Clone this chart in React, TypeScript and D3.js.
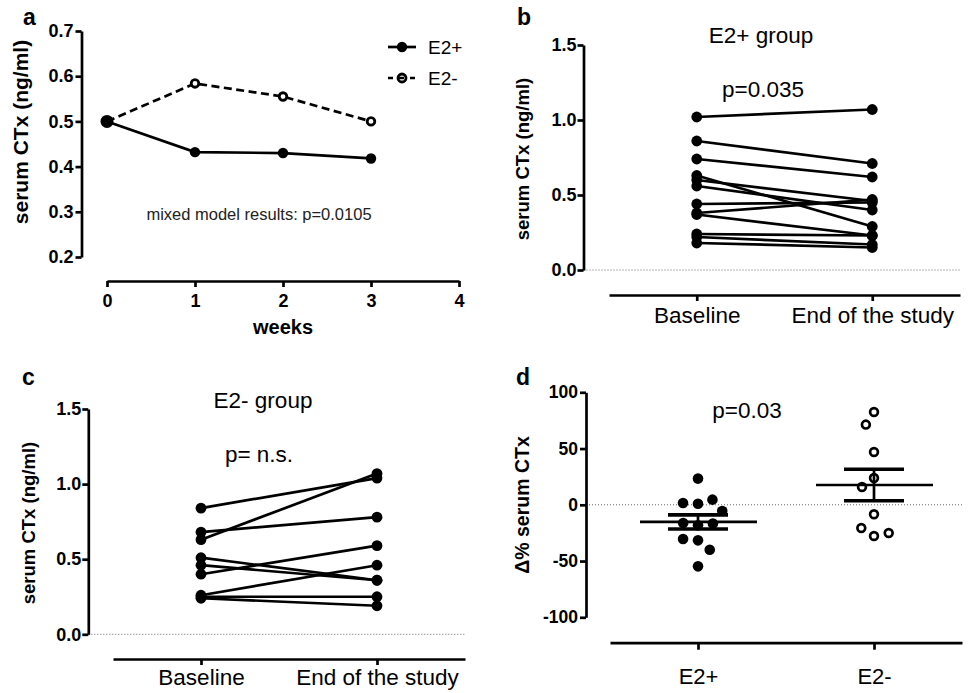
import React, { useEffect, useRef } from "react";
import * as d3 from "d3";

// panel a: mean serum CTx over time
const weeks = [0, 1, 2, 3];
const weekTicks = [0, 1, 2, 3, 4];
const e2PlusMeans = [0.5, 0.432, 0.43, 0.418];
const e2MinusMeans = [0.5, 0.584, 0.555, 0.5];
const ctxTicksA = [0.2, 0.3, 0.4, 0.5, 0.6, 0.7];

// panels b & c: paired values per subject
const timepoints = ["Baseline", "End of the study"];
const ctxTicks = [0, 0.5, 1.0, 1.5];
const e2PlusBaseline = [1.02, 0.86, 0.74, 0.63, 0.6, 0.56, 0.44, 0.38, 0.37, 0.24, 0.22, 0.18];
const e2PlusEnd = [1.07, 0.71, 0.62, 0.29, 0.46, 0.4, 0.45, 0.47, 0.23, 0.23, 0.17, 0.15];
const e2MinusBaseline = [0.84, 0.68, 0.63, 0.51, 0.46, 0.4, 0.26, 0.25, 0.24];
const e2MinusEnd = [1.04, 0.78, 1.07, 0.36, 0.36, 0.59, 0.46, 0.25, 0.19];

// panel d: percent change
const groups = ["E2+", "E2-"];
const deltaE2Plus = [23.3, 1.0, 1.6, 4.6, -5.5, -18.2, -16.2, -16.7, -31.6, -30.4, -39.9, -54.7];
const deltaE2Minus = [82.5, 71.3, 46.9, 23.8, 15.8, -8.4, -27.7, -20.6, -25.1];
const deltaTicks = [-100, -50, 0, 50, 100];

const FONT = "'Liberation Sans', Arial, Helvetica, sans-serif";
const SW = 2.7;

function styleAxis(g, size, weight) {
  g.attr("font-family", FONT).attr("font-size", size).attr("font-weight", weight);
  g.selectAll("path, line").attr("stroke", "#000").attr("stroke-width", SW);
  g.selectAll("text").attr("fill", "#000");
}

function label(svg, x, y, txt, size, weight = "normal", anchor = "middle") {
  return svg
    .append("text")
    .attr("x", x)
    .attr("y", y)
    .attr("font-family", FONT)
    .attr("font-size", size)
    .attr("font-weight", weight)
    .attr("text-anchor", anchor)
    .attr("fill", "#000")
    .text(txt);
}

function yTitle(svg, x, cy, txt, size) {
  svg
    .append("text")
    .attr("transform", `translate(${x},${cy}) rotate(-90)`)
    .attr("font-family", FONT)
    .attr("font-size", size)
    .attr("font-weight", "bold")
    .attr("text-anchor", "middle")
    .text(txt);
}

function drawPanelA(svg) {
  const x = d3.scaleLinear().domain([0, 4]).range([107, 459]);
  const y = d3.scaleLinear().domain([0.2, 0.7]).range([257, 31]);

  const yAx = svg
    .append("g")
    .attr("transform", "translate(81.5,0)")
    .call(d3.axisLeft(y).tickValues(ctxTicksA).tickFormat(d3.format(".1f")).tickSize(6).tickPadding(2).tickSizeOuter(0));
  styleAxis(yAx, 18, "bold");

  const xAx = svg
    .append("g")
    .attr("transform", "translate(0,281)")
    .call(d3.axisBottom(x).tickValues(weekTicks).tickFormat(d3.format("d")).tickSize(6).tickSizeOuter(0));
  styleAxis(xAx, 18, "bold");
  xAx.selectAll("text").attr("dy", null).attr("y", 26);

  label(svg, x(2), 334, "weeks", 20, "bold");
  yTitle(svg, 28, 132, "serum CTx (ng/ml)", 21);
  label(svg, 23, 25, "a", 23, "bold", "start");

  const line = d3
    .line<number>()
    .x((d, i) => x(weeks[i]))
    .y(d => y(d));

  svg.append("path").attr("d", line(e2MinusMeans)).attr("fill", "none").attr("stroke", "#000")
    .attr("stroke-width", SW).attr("stroke-dasharray", "8,4.5");
  svg.append("path").attr("d", line(e2PlusMeans)).attr("fill", "none").attr("stroke", "#000")
    .attr("stroke-width", SW);

  svg.selectAll(".ptMinus").data(e2MinusMeans).enter().append("circle")
    .attr("cx", (d, i) => x(weeks[i])).attr("cy", d => y(d)).attr("r", 3.8)
    .attr("fill", "#fff").attr("stroke", "#000").attr("stroke-width", 2.8);
  svg.selectAll(".ptPlus").data(e2PlusMeans).enter().append("circle")
    .attr("cx", (d, i) => x(weeks[i])).attr("cy", d => y(d)).attr("r", (d, i) => (i === 0 ? 6.5 : 5.2))
    .attr("fill", "#000");

  // legend
  const lg = svg.append("g");
  lg.append("line").attr("x1", 388).attr("x2", 416).attr("y1", 47).attr("y2", 47)
    .attr("stroke", "#000").attr("stroke-width", SW);
  lg.append("circle").attr("cx", 402).attr("cy", 47).attr("r", 5.2).attr("fill", "#000");
  label(lg, 428, 54, "E2+", 19, "normal", "start");
  lg.append("line").attr("x1", 388).attr("x2", 416).attr("y1", 78).attr("y2", 78)
    .attr("stroke", "#000").attr("stroke-width", SW).attr("stroke-dasharray", "5,6");
  lg.append("circle").attr("cx", 402).attr("cy", 78).attr("r", 4).attr("fill", "none")
    .attr("stroke", "#000").attr("stroke-width", 2.8);
  label(lg, 428, 85, "E2-", 19, "normal", "start");

  label(svg, 259, 220, "mixed model results: p=0.0105", 16.5).attr("fill", "#222");
}

function drawPaired(svg, o) {
  const y = d3.scaleLinear().domain([0, 1.5]).range([o.y0, o.y15]);
  const x = d3.scalePoint().domain(timepoints).range(o.xRange).padding(0.5);

  svg.append("line").attr("x1", o.axisX).attr("x2", o.xRange[1]).attr("y1", y(0)).attr("y2", y(0))
    .attr("stroke", "#666").attr("stroke-width", 1).attr("stroke-dasharray", "1,2");

  const yAx = svg
    .append("g")
    .attr("transform", `translate(${o.axisX},0)`)
    .call(d3.axisLeft(y).tickValues(ctxTicks).tickFormat(d3.format(".1f")).tickSize(6).tickPadding(1).tickSizeOuter(0));
  styleAxis(yAx, 18, "bold");

  const xAx = svg
    .append("g")
    .attr("transform", `translate(0,${o.xAxisY})`)
    .call(d3.axisBottom(x).tickSize(6).tickSizeOuter(0));
  styleAxis(xAx, 22.5, "normal");
  xAx.selectAll("text").attr("dy", null).attr("y", o.labelY);

  o.baseline.forEach((b, i) => {
    svg.append("line")
      .attr("x1", x(timepoints[0])).attr("y1", y(b))
      .attr("x2", x(timepoints[1])).attr("y2", y(o.end[i]))
      .attr("stroke", "#000").attr("stroke-width", SW);
  });
  const pts = o.baseline.map(b => [timepoints[0], b]).concat(o.end.map(e => [timepoints[1], e]));
  svg.append("g").selectAll("circle").data(pts).enter().append("circle")
    .attr("cx", d => x(d[0])).attr("cy", d => y(d[1])).attr("r", 5.4).attr("fill", "#000");

  label(svg, o.title[0], o.title[1], o.title[2], 22.5);
  label(svg, o.p[0], o.p[1], o.p[2], 22.5);
  yTitle(svg, o.yTitleX, o.yTitleY, "serum CTx (ng/ml)", 18.5);
  label(svg, o.letter[0], o.letter[1], o.letter[2], 23, "bold", "start");
}

function swarm(values, y, minDist) {
  const placed = [];
  return values.map(v => {
    const py = y(v);
    const blocked = [];
    for (const p of placed) {
      const dy = Math.abs(p.y - py);
      if (dy < minDist) {
        const dx = Math.sqrt(minDist * minDist - dy * dy);
        blocked.push([p.x - dx, p.x + dx]);
      }
    }
    const cands = [0];
    blocked.forEach(([a, b]) => cands.push(a, b));
    cands.sort((a, b) => Math.abs(a) - Math.abs(b) || a - b);
    const ox = cands.find(c => blocked.every(([a, b]) => c <= a + 1e-6 || c >= b - 1e-6)) ?? 0;
    placed.push({ x: ox, y: py });
    return { v, ox, y: py };
  });
}

function drawPanelD(svg) {
  const y = d3.scaleLinear().domain([-100, 100]).range([617.3, 392.3]);
  const x = d3.scalePoint().domain(groups).range([610, 962]).padding(0.5);
  const axisX = 586;

  svg.append("line").attr("x1", axisX).attr("x2", 962).attr("y1", y(0)).attr("y2", y(0))
    .attr("stroke", "#666").attr("stroke-width", 1).attr("stroke-dasharray", "1,2");

  const yAx = svg
    .append("g")
    .attr("transform", `translate(${axisX},0)`)
    .call(d3.axisLeft(y).tickValues(deltaTicks).tickFormat(d => String(d)).tickSize(6).tickPadding(2).tickSizeOuter(0));
  styleAxis(yAx, 17.5, "bold");

  const xAx = svg
    .append("g")
    .attr("transform", "translate(0,642.7)")
    .call(d3.axisBottom(x).tickSize(7).tickSizeOuter(0));
  styleAxis(xAx, 22, "normal");
  xAx.selectAll("text").attr("dy", null).attr("y", 41);

  const sets = [
    { name: groups[0], vals: deltaE2Plus, filled: true },
    { name: groups[1], vals: deltaE2Minus, filled: false },
  ];
  sets.forEach(s => {
    const cx = x(s.name);
    const pts = swarm(s.vals, y, 15);
    const g = svg.append("g");
    g.selectAll("circle").data(pts).enter().append("circle")
      .attr("cx", d => cx + d.ox).attr("cy", d => d.y)
      .attr("r", s.filled ? 5.3 : 3.9)
      .attr("fill", s.filled ? "#000" : "#fff")
      .attr("stroke", s.filled ? "none" : "#000")
      .attr("stroke-width", 2.7);
    const mean = d3.mean(s.vals);
    const sem = d3.deviation(s.vals) / Math.sqrt(s.vals.length);
    const sg = svg.append("g").attr("stroke", "#000").attr("stroke-width", SW).attr("fill", "none");
    sg.append("line").attr("x1", cx - 58).attr("x2", cx + 59).attr("y1", y(mean)).attr("y2", y(mean));
    sg.append("line").attr("x1", cx).attr("x2", cx).attr("y1", y(mean + sem)).attr("y2", y(mean - sem));
    [mean + sem, mean - sem].forEach(v => {
      sg.append("line").attr("x1", cx - 30).attr("x2", cx + 30).attr("y1", y(v)).attr("y2", y(v))
        .attr("stroke-width", 3.6);
    });
  });

  label(svg, 747, 418, "p=0.03", 22.5);
  yTitle(svg, 529, 505, "\u0394% serum CTx", 19.5);
  label(svg, 516, 385, "d", 23, "bold", "start");
}

export default function App() {
  const ref = useRef<SVGSVGElement>(null);
  useEffect(() => {
    document.body.style.margin = "0";
    const svg = d3.select(ref.current);
    svg.selectAll("*").remove();
    drawPanelA(svg);
    drawPaired(svg, {
      axisX: 583.5, y0: 270, y15: 45, xRange: [609, 960], xAxisY: 295, labelY: 28,
      baseline: e2PlusBaseline, end: e2PlusEnd,
      title: [761, 43, "E2+ group"], p: [763, 97, "p=0.035"],
      yTitleX: 529, yTitleY: 159, letter: [517, 25, "b"],
    });
    drawPaired(svg, {
      axisX: 88.3, y0: 634.3, y15: 409, xRange: [113, 465], xAxisY: 659, labelY: 26,
      baseline: e2MinusBaseline, end: e2MinusEnd,
      title: [263, 408, "E2- group"], p: [259, 462, "p= n.s."],
      yTitleX: 35, yTitleY: 523, letter: [22, 385, "c"],
    });
    drawPanelD(svg);
  }, []);
  return <svg ref={ref} width={971} height={693} style={{ display: "block", background: "#fff" }} />;
}
